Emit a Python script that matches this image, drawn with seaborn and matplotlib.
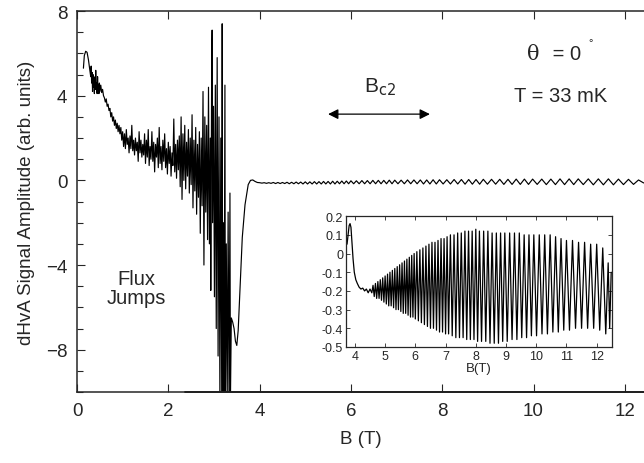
"""dHvA signal amplitude vs field, with inset of the oscillations above Bc2"""

import numpy as np
import seaborn as sns
import matplotlib.pyplot as plt
from matplotlib.ticker import MultipleLocator

# low-field part of the main trace (flux jumps region)
main_b = [0.14, 0.16, 0.19, 0.22, 0.25, 0.28, 0.30,
          0.31, 0.32, 0.33, 0.34, 0.35, 0.36, 0.37, 0.38, 0.39, 0.40, 0.41, 0.42, 0.43, 0.44,
          0.45, 0.46, 0.47, 0.48, 0.49, 0.50, 0.52, 0.54, 0.56, 0.58,
          0.60, 0.62, 0.64, 0.66, 0.68, 0.70, 0.72, 0.74, 0.76, 0.78, 0.80, 0.82, 0.84, 0.86,
          0.88, 0.90, 0.92, 0.94,
          0.96, 0.98, 1.00, 1.02, 1.04, 1.06, 1.08, 1.10, 1.12, 1.14, 1.16, 1.18, 1.20, 1.22,
          1.24, 1.26, 1.28, 1.30, 1.32, 1.34, 1.36, 1.38, 1.40, 1.42, 1.44, 1.46, 1.48,
          1.50, 1.52, 1.54, 1.56, 1.58, 1.60, 1.62, 1.64, 1.66, 1.68, 1.70, 1.72, 1.74, 1.76,
          1.78, 1.80, 1.82, 1.84, 1.86, 1.88, 1.90, 1.92, 1.94, 1.96, 1.98, 2.00, 2.02, 2.04,
          2.06, 2.08,
          2.10, 2.12, 2.14, 2.16, 2.18, 2.20, 2.22, 2.24, 2.26, 2.28, 2.30, 2.32, 2.34, 2.36,
          2.38, 2.40, 2.42, 2.44, 2.46, 2.48, 2.50, 2.52, 2.54, 2.56, 2.58, 2.60, 2.62, 2.64,
          2.66, 2.68, 2.70, 2.72, 2.74,
          2.76, 2.78, 2.80, 2.82, 2.84, 2.86, 2.88, 2.90, 2.92, 2.93, 2.95, 2.96, 2.97, 2.99,
          3.01, 3.03, 3.05, 3.07, 3.09, 3.11, 3.13, 3.15, 3.17, 3.18, 3.19, 3.21, 3.22, 3.24,
          3.25, 3.27, 3.29, 3.31, 3.33, 3.35, 3.36,
          3.38, 3.41, 3.44, 3.47, 3.50, 3.53, 3.57, 3.62, 3.68, 3.75, 3.80, 3.85, 3.90, 3.95]
main_y = [5.3, 5.9, 6.1, 6.05, 5.7, 5.2, 4.9,
          5.4, 4.6, 5.1, 4.2, 5.0, 4.4, 4.9, 4.1, 4.8, 4.3, 5.2, 4.4, 4.6, 4.1,
          4.9, 4.3, 4.5, 4.1, 4.6, 4.2, 4.5, 4.15, 4.3, 4.0,
          3.9, 3.7, 3.85, 3.5, 3.6, 3.3, 3.4, 3.0, 3.2, 2.8, 3.0, 2.6, 2.85, 2.45,
          2.7, 2.3, 2.6, 2.2,
          2.5, 1.9, 2.3, 1.6, 2.2, 1.5, 2.4, 1.7, 2.0, 1.3, 2.1, 1.5, 2.6, 1.4,
          1.9, 1.2, 2.0, 1.4, 1.8, 0.9, 2.3, 1.3, 1.9, 1.1, 1.7, 1.2, 2.2,
          0.8, 1.9, 1.1, 2.4, 0.7, 1.6, 1.0, 2.3, 0.9, 1.8, 0.4, 1.7, 1.1, 2.0,
          0.6, 2.5, 0.8, 1.6, 0.5, 1.9, 0.9, 2.2, 0.6, 1.5, 0.3, 1.8, 0.8, 1.6,
          0.2, 1.3,
          0.7, 2.9, 0.4, 1.7, 0.1, 1.9, 0.5, 2.1, -0.3, 3.0, -0.9, 2.2, 0.0, 2.6,
          -0.4, 1.8, 0.2, 2.4, -0.6, 2.0, -0.2, 3.1, -1.3, 1.9, -0.5, 2.5, -1.6, 1.7,
          -0.8, 2.3, -2.5, 2.0, -1.2,
          4.2, -4.0, 3.0, -1.5, 2.6, -2.8, 4.4, -3.0, 2.0, -5.2, 5.5, 7.1, -2.0, 3.5,
          -5.5, 4.5, -7.0, 5.8, -8.3, 3.0, -10.5, 2.0, -10.5, 7.4, -10.5, -2.0, -10.5, 4.5,
          -10.5, -3.0, -10.5, -1.5, -10.5, -0.6, -10.5,
          -6.5, -6.7, -7.0, -7.6, -7.8, -7.1, -5.1, -2.7, -1.15, -0.2, 0.0, 0.02, -0.05, -0.1]

# oscillation extrema of the main trace above Bc2
tail_b = [4.00, 4.05, 4.10, 4.15, 4.20, 4.25, 4.30, 4.35, 4.40, 4.45, 4.50, 4.55, 4.60,
          4.65, 4.70, 4.75, 4.80, 4.85, 4.90, 4.95, 5.00, 5.05, 5.10, 5.15, 5.20, 5.25,
          5.30, 5.35, 5.40, 5.45, 5.50, 5.55, 5.60, 5.65, 5.70, 5.75, 5.80, 5.85, 5.90,
          5.95, 6.00, 6.06, 6.12, 6.18, 6.24, 6.30, 6.36, 6.42, 6.48, 6.54, 6.60, 6.66,
          6.72, 6.78, 6.84, 6.90, 6.96, 7.03, 7.10, 7.17, 7.24, 7.31, 7.38, 7.45, 7.52,
          7.59, 7.66, 7.73, 7.80, 7.87, 7.94, 8.02, 8.10, 8.18, 8.26, 8.34, 8.42, 8.50,
          8.58, 8.66, 8.74, 8.82, 8.90, 8.99, 9.08, 9.17, 9.26, 9.35, 9.44, 9.53, 9.62,
          9.71, 9.80, 9.89, 9.98, 10.08, 10.18, 10.28, 10.38, 10.48, 10.58, 10.68, 10.78,
          10.88, 10.98, 11.09, 11.20, 11.31, 11.42, 11.53, 11.64, 11.75, 11.86, 11.97,
          12.08, 12.19, 12.30, 12.41, 12.48]
tail_y = [-0.11, -0.13, -0.11, -0.14, -0.11, -0.14, -0.10, -0.15, -0.10, -0.15, -0.10,
          -0.15, -0.09, -0.16, -0.09, -0.16, -0.08, -0.16, -0.08, -0.17, -0.07, -0.17,
          -0.07, -0.17, -0.06, -0.17, -0.06, -0.17, -0.05, -0.17, -0.05, -0.17, -0.04,
          -0.17, -0.04, -0.16, -0.03, -0.16, -0.03, -0.16, -0.02, -0.16, -0.02, -0.16,
          -0.01, -0.16, -0.01, -0.16, 0.00, -0.16, 0.00, -0.16, 0.00, -0.16, 0.01, -0.16,
          0.01, -0.16, 0.01, -0.16, 0.02, -0.16, 0.02, -0.16, 0.02, -0.17, 0.02, -0.17,
          0.03, -0.17, 0.03, -0.17, 0.03, -0.17, 0.04, -0.17, 0.04, -0.18, 0.04, -0.18,
          0.04, -0.18, 0.05, -0.18, 0.05, -0.18, 0.05, -0.19, 0.05, -0.19, 0.06, -0.19,
          0.06, -0.19, 0.06, -0.19, 0.06, -0.20, 0.06, -0.20, 0.07, -0.20, 0.07, -0.20,
          0.07, -0.20, 0.07, -0.21, 0.07, -0.21, 0.07, -0.21, 0.06, -0.20, 0.05, -0.19,
          0.02, -0.12, -0.10]

# trace clipped on the lower axis limit
floor_b = [2.37, 12.45]
floor_y = [-10.0, -10.0]

# inset: high-field oscillations
inset_b = [3.74, 3.78, 3.81, 3.84, 3.87, 3.90, 3.94, 3.98, 4.03, 4.08, 4.14, 4.20, 4.26,
           4.32, 4.38, 4.44, 4.50, 4.56,
           4.60, 4.64, 4.68, 4.72, 4.76, 4.80, 4.84, 4.88, 4.92, 4.96, 5.00, 5.04, 5.08,
           5.12, 5.16, 5.20, 5.24, 5.28, 5.32, 5.36, 5.40, 5.44, 5.48, 5.52, 5.56, 5.60,
           5.64, 5.68, 5.72, 5.76, 5.80, 5.84, 5.88, 5.92, 5.96, 6.00, 6.05, 6.10, 6.15,
           6.20, 6.25, 6.30, 6.35, 6.40, 6.45, 6.50, 6.55, 6.60, 6.65, 6.70, 6.75, 6.80,
           6.85, 6.90, 6.95, 7.00, 7.05, 7.10, 7.16, 7.22, 7.28, 7.34, 7.40, 7.46, 7.52,
           7.58, 7.64, 7.70, 7.76, 7.82, 7.88, 7.94, 8.00, 8.06, 8.12, 8.19, 8.26, 8.33,
           8.40, 8.47, 8.54, 8.61, 8.68, 8.75, 8.82, 8.89, 8.96, 9.04, 9.12, 9.20, 9.28,
           9.36, 9.44, 9.52, 9.60, 9.68, 9.76, 9.84, 9.92, 10.01, 10.10, 10.19, 10.28,
           10.37, 10.46, 10.55, 10.64, 10.73, 10.82, 10.91, 11.00, 11.10, 11.20, 11.30,
           11.40, 11.50, 11.60, 11.70, 11.80, 11.90, 12.00, 12.10, 12.20, 12.30, 12.38,
           12.43, 12.48]
inset_y = [0.05, 0.11, 0.15, 0.16, 0.14, 0.07, -0.03, -0.10, -0.14, -0.16, -0.18, -0.19,
           -0.185, -0.20, -0.19, -0.21, -0.19, -0.21,
           -0.17, -0.23, -0.16, -0.24, -0.15, -0.24, -0.14, -0.25, -0.13, -0.26, -0.12,
           -0.27, -0.11, -0.28, -0.10, -0.28, -0.09, -0.29, -0.08, -0.30, -0.07, -0.30,
           -0.06, -0.31, -0.05, -0.32, -0.04, -0.32, -0.03, -0.33, -0.02, -0.34, -0.01,
           -0.34, 0.00, -0.35, 0.01, -0.36, 0.02, -0.37, 0.03, -0.38, 0.04, -0.39, 0.05,
           -0.40, 0.06, -0.40, 0.06, -0.41, 0.07, -0.42, 0.08, -0.42, 0.08, -0.43, 0.09,
           -0.43, 0.10, -0.44, 0.10, -0.45, 0.11, -0.45, 0.11, -0.45, 0.12, -0.46, 0.12,
           -0.46, 0.12, -0.46, 0.13, -0.47, 0.12, -0.47, 0.12, -0.47, 0.12, -0.48, 0.11,
           -0.48, 0.11, -0.48, 0.11, -0.47, 0.11, -0.47, 0.11, -0.46, 0.11, -0.46, 0.11,
           -0.45, 0.10, -0.45, 0.10, -0.44, 0.10, -0.44, 0.10, -0.43, 0.10, -0.43, 0.10,
           -0.42, 0.09, -0.42, 0.08, -0.41, 0.07, -0.41, 0.07, -0.40, 0.06, -0.40, 0.06,
           -0.40, 0.05, -0.40, 0.05, -0.41, 0.03, -0.43, -0.05, -0.40, -0.10]

sns.set_theme(style="ticks")
plt.rcParams["font.family"] = ["Liberation Sans", "DejaVu Sans"]
plt.rcParams["axes.linewidth"] = 1.1
plt.rcParams["xtick.direction"] = "in"
plt.rcParams["ytick.direction"] = "in"

fig = plt.figure(figsize=(6.44, 4.64), dpi=100)
ax = fig.add_axes([0.1196, 0.153, 0.8804, 0.821])

b_all = np.concatenate([main_b, tail_b])
y_all = np.concatenate([main_y, tail_y])
sns.lineplot(x=b_all, y=y_all, ax=ax, color="black", lw=0.85, sort=False, estimator=None)
sns.lineplot(x=floor_b, y=floor_y, ax=ax, color="black", lw=1.3, sort=False,
             estimator=None, clip_on=False)

ax.set_xlim(0, 12.42)
ax.set_ylim(-10, 8)
ax.xaxis.set_major_locator(MultipleLocator(2))
ax.yaxis.set_major_locator(MultipleLocator(4))
ax.yaxis.set_minor_locator(MultipleLocator(1))
ax.tick_params(which="both", top=True, right=False, labelsize=13.5, width=0.8)
ax.tick_params(which="major", length=6, pad=7)
ax.tick_params(which="minor", length=4)
ax.spines["right"].set_visible(False)
ax.set_xlabel("B (T)", fontsize=13.5, labelpad=8)
ax.set_ylabel("dHvA Signal Amplitude (arb. units)", fontsize=13.5, labelpad=8)

# annotations
ax.text(10.0, 6.0, "θ", fontsize=15, family="DejaVu Serif", ha="center", va="center")
ax.text(10.3, 6.0, " = 0", fontsize=14.5, ha="left", va="center")
ax.text(11.2, 6.55, "°", fontsize=8, ha="left", va="center")
ax.text(10.6, 4.0, "T = 33 mK", fontsize=14.5, ha="center", va="center")
ax.text(6.64, 4.45, "B$_{\\rm c2}$", fontsize=15, ha="center", va="center")
ax.annotate("", xy=(5.5, 3.13), xytext=(7.73, 3.13),
            arrowprops=dict(arrowstyle="<|-|>", color="black", lw=0.9,
                            mutation_scale=15, shrinkA=0, shrinkB=0))
ax.text(1.31, -5.1, "Flux\nJumps", fontsize=14.5, ha="center", va="center",
        linespacing=1.0)

# inset
ins = fig.add_axes([0.537, 0.25, 0.413, 0.282])
sns.lineplot(x=inset_b, y=inset_y, ax=ins, color="black", lw=0.9, sort=False,
             estimator=None)
ins.set_xlim(3.7, 12.5)
ins.set_ylim(-0.5, 0.2)
ins.xaxis.set_major_locator(MultipleLocator(1))
ins.set_yticks([0.2, 0.1, 0, -0.1, -0.2, -0.3, -0.4, -0.5])
ins.set_yticklabels(["0.2", "0.1", "0", "-0.1", "-0.2", "-0.3", "-0.4", "-0.5"])
ins.tick_params(which="both", top=True, right=True, labelsize=9, length=3,
                width=0.6, pad=2)
for side in ins.spines.values():
    side.set_linewidth(0.9)
ins.set_xlabel("B(T)", fontsize=9.5, labelpad=0)

fig.savefig("out.png", dpi=100)
